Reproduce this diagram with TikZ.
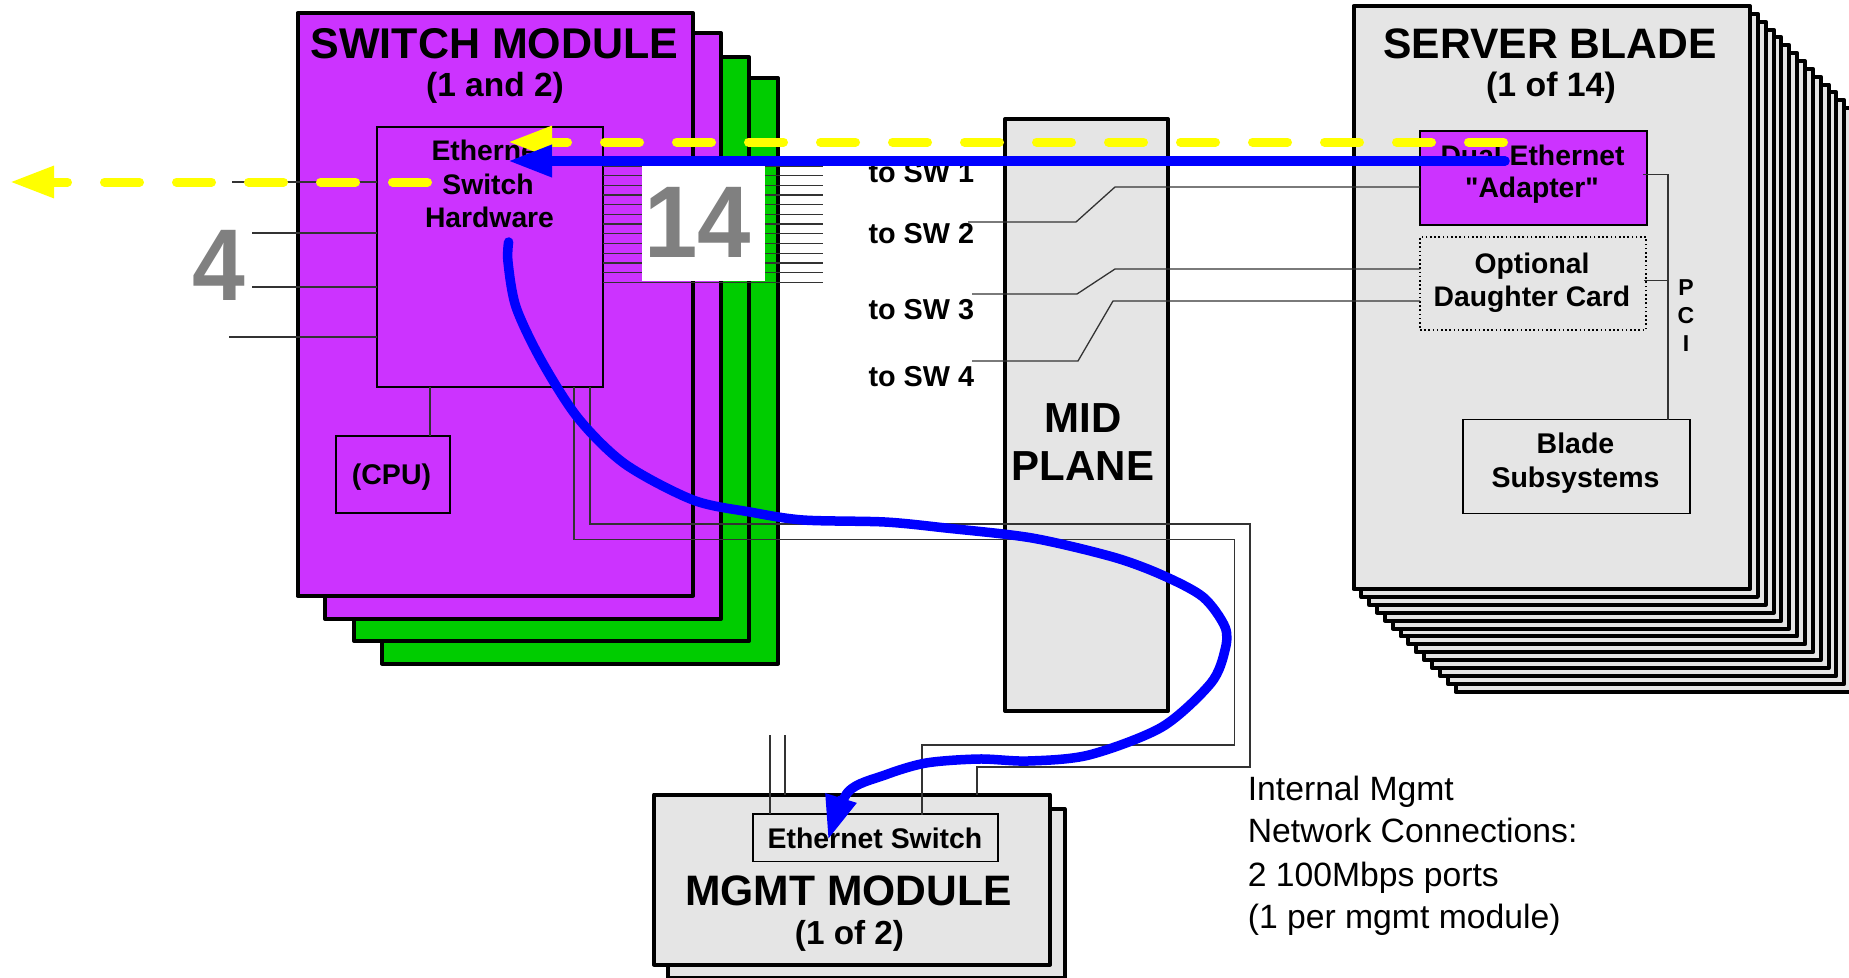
\documentclass[tikz,border=0pt]{standalone}
\usepackage{fontspec}
\setmainfont[Ligatures=TeXOff]{Liberation Sans}
\usetikzlibrary{arrows.meta}
\definecolor{swpurple}{HTML}{CC33FF}
\definecolor{swgreen}{HTML}{00CC00}
\definecolor{panel}{HTML}{E5E5E5}
\definecolor{wirec}{HTML}{333333}
\definecolor{numgray}{HTML}{808080}
\definecolor{flowblue}{HTML}{0000FF}
\definecolor{flowyellow}{HTML}{FFFF00}
\newcommand{\bx}[6]{\node[#2,anchor=north west,minimum width={(#5-(#3))*1pt},minimum height={(#6-(#4))*1pt}] (#1) at (#3,#4) {};}
\newcommand{\fs}[1]{\fontsize{#1}{#1}\selectfont}
\tikzset{
  heavy/.style={draw=black,line width=4pt,rectangle,inner sep=0pt,outer sep=0pt,line join=round},
  light/.style={draw=black,line width=1.2pt,rectangle,inner sep=0pt,outer sep=0pt},
  wire/.style={draw=wirec,line width=1.3pt},
  lbl/.style={anchor=base,inner sep=0pt,outer sep=0pt,font=\bfseries},
  yflow/.style={draw=flowyellow,line width=9pt,line cap=round,dash pattern=on 35pt off 37pt,-{Triangle[length=44pt,width=30pt,fill=flowyellow]}},
  bflow/.style={draw=flowblue,line width=9.5pt,line cap=round,line join=round,-{Triangle[length=44pt,width=30pt,fill=flowblue]}}
}
\begin{document}
\begin{tikzpicture}[x=1pt,y=-1pt]
\useasboundingbox (0,0) rectangle (1849,977);
\clip (0,0) rectangle (1849,977);
% switch module stack
\bx{sw4}{heavy,fill=swgreen}{382}{78}{778}{663.5}
\bx{sw3}{heavy,fill=swgreen}{354}{57}{749}{641}
\bx{sw2}{heavy,fill=swpurple}{325}{33}{721}{619}
\bx{sw1}{heavy,fill=swpurple}{297.5}{13}{693}{595.5}
\bx{hw}{light,fill=swpurple}{377}{127}{603}{387}
\bx{cpu}{light,fill=swpurple}{336}{436}{450}{513}
% mid plane
\bx{mid}{heavy,fill=panel}{1005}{119}{1168}{711}
% server blades
\foreach \k in {13,12,...,1}{
  \pgfmathsetmacro{\xa}{1353.5+7.85*\k}
  \pgfmathsetmacro{\ya}{6+7.85*\k}
  \pgfmathsetmacro{\xb}{1750+7.85*\k}
  \pgfmathsetmacro{\yb}{589+7.9*\k}
  \bx{blade\k}{heavy,fill=panel}{\xa}{\ya}{\xb}{\yb}
}
\bx{blade}{heavy,fill=panel}{1353.5}{6}{1750}{589}
\bx{adapter}{light,fill=swpurple}{1420}{131}{1647}{225}
\bx{daughter}{draw=black,line width=1.1pt,dash pattern=on 1.6pt off 2.6pt,rectangle,inner sep=0pt,outer sep=0pt}{1420}{237}{1646}{330}
\bx{subsys}{light}{1463}{419.5}{1690}{513.5}
% mgmt module
\bx{mgmt2}{heavy,fill=panel}{668}{809}{1064.5}{978}
\bx{mgmt}{heavy,fill=panel}{654}{794.5}{1050}{964.5}
\bx{ethsw}{light}{753}{814}{998}{861.5}
% 4 uplinks
\draw[wire] (232,182) -- (hw.west |- 232,182);
\draw[wire] (252,233) -- (hw.west |- 252,233);
\draw[wire] (252,287) -- (hw.west |- 252,287);
\draw[wire] (229,337) -- (hw.west |- 229,337);
% 14 downlinks
\foreach \k in {1,...,13}{
  \pgfmathsetmacro{\yy}{156.3+9.69*\k}
  \draw[wire] (hw.east |- 0,\yy) -- (823,\yy);
}
\draw[wire] (hw.east |- 0,156.3) -- (adapter.west |- 0,156.3);
% cpu
\draw[wire] (430,387 |- hw.south) -- (430,387 |- cpu.north);
% internal mgmt links
\draw[wire] (574,0 |- hw.south) -- (574,539.5) -- (1234.7,539.5) -- (1234.7,745) -- (922,745) -- (922,815);
\draw[wire] (590,0 |- hw.south) -- (590,524) -- (1250,524) -- (1250,767) -- (977,767) -- (977,0 |- mgmt.north);
\draw[wire] (770,735) -- (770,0 |- ethsw.north);
\draw[wire] (785,735) -- (785,0 |- mgmt.north);
% adapter links
\draw[wire] (adapter.west |- 0,187) -- (1115,187) -- (1076,222) -- (968,222);
\draw[wire] (daughter.west |- 0,269) -- (1115,269) -- (1077,294) -- (972,294);
\draw[wire] (daughter.west |- 0,301) -- (1113,301) -- (1078,361) -- (972,361);
% PCI
\draw[wire] (1643,174.5) -- (1668,174.5) -- (1668,0 |- subsys.north);
\draw[wire] (1644,280.6) -- (1668,280.6);
% white box
\node[fill=white,inner sep=0pt,outer sep=0pt,anchor=north west,minimum width=123pt,minimum height=115pt] (whitebox) at (642,166) {};
% labels
\node[lbl,font=\bfseries\fs{43}] (t1) at (494.5,58) {SWITCH MODULE};
\node[lbl,font=\bfseries\fs{33.5}] (t2) at (495,96) {(1 and 2)};
\node[lbl,font=\bfseries\fs{28.3}] (t3) at (489,160) {Ethernet};
\node[lbl,font=\bfseries\fs{28.3}] (t4) at (488,194) {Switch};
\node[lbl,font=\bfseries\fs{28.3}] (t5) at (489.5,227) {Hardware};
\node[lbl,font=\bfseries\fs{28.5}] (t6) at (391.5,484) {(CPU)};
\node[lbl,text=numgray] (n4) at (219,300) {\scalebox{0.93}[1]{\fs{102}\bfseries 4}};
\node[lbl,text=numgray] (n14) at (698,257) {\scalebox{0.94}[1]{\fs{102}\bfseries 14}};
\node[lbl,font=\bfseries\fs{28.8},anchor=base west] (s1) at (868.5,182) {to SW 1};
\node[lbl,font=\bfseries\fs{28.8},anchor=base west] (s2) at (868.5,243) {to SW 2};
\node[lbl,font=\bfseries\fs{28.8},anchor=base west] (s3) at (868.5,319) {to SW 3};
\node[lbl,font=\bfseries\fs{28.8},anchor=base west] (s4) at (868.5,386) {to SW 4};
\node[lbl,font=\bfseries\fs{42}] (m1) at (1083,432) {MID};
\node[lbl,font=\bfseries\fs{42}] (m2) at (1083,480) {PLANE};
\node[lbl,font=\bfseries\fs{42.6}] (b1) at (1550,58) {SERVER BLADE};
\node[lbl,font=\bfseries\fs{33.8}] (b2) at (1551,96) {(1 of 14)};
\node[lbl,font=\bfseries\fs{28.3}] (b3) at (1532.5,165.6) {Dual Ethernet};
\node[lbl,font=\bfseries\fs{28.3}] (b4) at (1532,197.5) {"Adapter"};
\node[lbl,font=\bfseries\fs{28.3}] (b5) at (1532,273) {Optional};
\node[lbl,font=\bfseries\fs{28.3}] (b6) at (1532,306) {Daughter Card};
\node[lbl,font=\bfseries\fs{28.5}] (b7) at (1575.5,453) {Blade};
\node[lbl,font=\bfseries\fs{28.5}] (b8) at (1575.5,487.5) {Subsystems};
\node[lbl,font=\bfseries\fs{23}] (p1) at (1686,295) {P};
\node[lbl,font=\bfseries\fs{23}] (p2) at (1686,323.5) {C};
\node[lbl,font=\bfseries\fs{23}] (p3) at (1686,351.5) {I};
\node[lbl,font=\bfseries\fs{28.4}] (e1) at (875,848.5) {Ethernet Switch};
\node[lbl,font=\bfseries\fs{42.6}] (e2) at (848.6,905) {MGMT MODULE};
\node[lbl,font=\bfseries\fs{33.3}] (e3) at (849.5,944) {(1 of 2)};
\node[anchor=base west,inner sep=0pt,font=\fs{33.7}] (i1) at (1247.6,800) {Internal Mgmt};
\node[anchor=base west,inner sep=0pt,font=\fs{33.7}] (i2) at (1247.6,842) {Network Connections:};
\node[anchor=base west,inner sep=0pt,font=\fs{33.7}] (i3) at (1247.6,886) {2 100Mbps ports};
\node[anchor=base west,inner sep=0pt,font=\fs{33.7}] (i4) at (1247.6,928) {(1 per mgmt module)};
% flows
\coordinate (ya) at (1503.5,142);
\coordinate (yb) at (508,142);
\coordinate (yc) at (427.5,182);
\coordinate (yd) at (10,182);
\draw[yflow] (ya) -- (yb);
\draw[yflow] (yc) -- (yd);
\coordinate (ba) at (1505,161);
\coordinate (bb) at (508,161);
\draw[bflow] (ba) -- (bb);
\draw[bflow] plot[smooth,tension=0.5] coordinates {(508.6,242) (508,262) (516,307) (541,360) (578,418) (625,464) (693,500) (750,512) (803,520) (885,522) (946,528) (1032,538) (1113,557) (1162,575) (1203,597) (1225,627) (1225,650) (1211,683) (1162,727) (1089,755) (1028,761) (979,759) (926,763) (885,775) (848,792) (828,840)};
\end{tikzpicture}
\end{document}
